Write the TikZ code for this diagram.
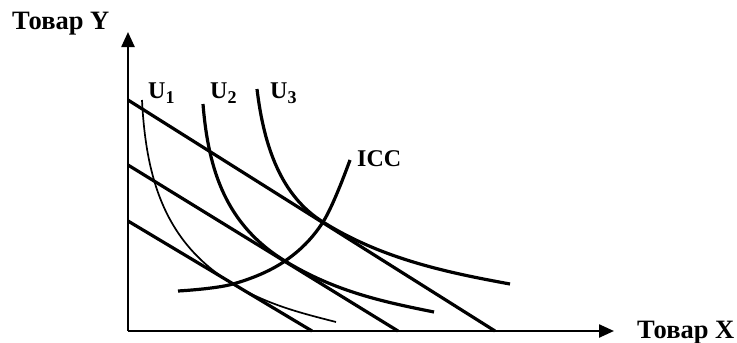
\documentclass[tikz,border=0pt]{standalone}
\usepackage{fontspec}
\setmainfont{Liberation Serif}
\usetikzlibrary{arrows.meta}
\tikzset{
  axisline/.style={line width=2.4pt,-{Triangle[length=15pt,width=13pt]}},
  budget/.style={line width=3.2pt},
  thickic/.style={line width=3.2pt},
  thinic/.style={line width=1.7pt},
  lbl/.style={inner sep=0pt,anchor=base west,font=\fontsize{24}{24}\selectfont\bfseries},
  axlbl/.style={lbl,font=\fontsize{26.5}{26.5}\selectfont\bfseries},
}
\newcommand{\usub}[1]{U\raisebox{-0.22em}{\fontsize{18}{18}\selectfont #1}}
\begin{document}
\begin{tikzpicture}[x=1pt,y=-1pt]
\useasboundingbox (0,0) rectangle (737,343);
% axes
\coordinate (O) at (128,331);
\coordinate (Ytip) at (128,32);
\coordinate (Xtip) at (614,331);
\draw[axisline] (O) -- (Ytip);
\draw[axisline] (O) -- (Xtip);
% budget lines
\coordinate (b1a) at (128,100); \coordinate (b1b) at (495,331);
\coordinate (b2a) at (128,165); \coordinate (b2b) at (398,331);
\coordinate (b3a) at (128,221); \coordinate (b3b) at (312,331);
\draw[budget] (b1a) -- (b1b);
\draw[budget] (b2a) -- (b2b);
\draw[budget] (b3a) -- (b3b);
% tangency points
\coordinate (t1) at (233,284);
\coordinate (t2) at (285,261);
\coordinate (t3) at (323,222);
% indifference curves
\draw[thinic] (142,100) .. controls (146,180) and (165.6,243.5) .. (t1)
  .. controls (268,305) and (301,313) .. (336,322);
\draw[thickic] (203,104) .. controls (208.4,171.4) and (226.6,225.2) .. (t2)
  .. controls (335,291.6) and (384,302) .. (434,312);
\draw[thickic] (257,89) .. controls (264.1,148.5) and (282,196.5) .. (t3)
  .. controls (383,259.6) and (450,273) .. (510,284);
% ICC
\draw[thickic] plot[smooth,tension=0.6] coordinates {(178,291) (t1) (t2) (t3) (350,160)};
% labels
\node[axlbl] (ly) at (12,29) {Товар Y};
\node[axlbl] (lx) at (637,338) {Товар X};
\node[lbl] (u1) at (148,98) {\usub{1}};
\node[lbl] (u2) at (210,98) {\usub{2}};
\node[lbl] (u3) at (270,98) {\usub{3}};
\node[lbl] (icc) at (357,166) {ICC};
\end{tikzpicture}
\end{document}
